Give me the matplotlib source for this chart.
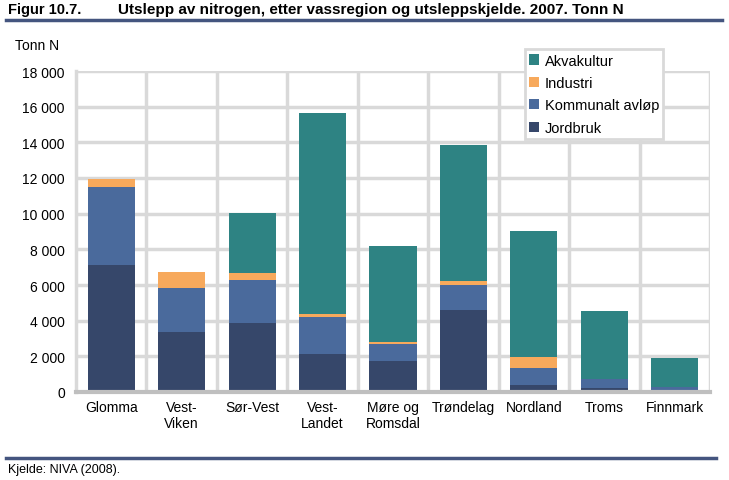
import matplotlib.pyplot as plt
import numpy as np

plt.rcParams['font.family'] = ['Liberation Sans', 'DejaVu Sans']

regioner = ['Glomma', 'Vest-\nViken', 'Sør-Vest', 'Vest-\nLandet', 'Møre og\nRomsdal',
            'Trøndelag', 'Nordland', 'Troms', 'Finnmark']
jordbruk = [7100, 3350, 3850, 2150, 1750, 4600, 400, 220, 80]
kommunalt = [4400, 2500, 2450, 2050, 950, 1400, 950, 500, 200]
industri = [450, 900, 350, 150, 100, 200, 600, 20, 10]
akvakultur = [0, 0, 3400, 11300, 5400, 7650, 7100, 3800, 1620]

c_jord = '#36476A'
c_komm = '#4A6A9C'
c_ind = '#F7A95C'
c_akva = '#2E8383'

fig = plt.figure(figsize=(7.29, 4.81), dpi=100)
ax = fig.add_axes([76 / 729, 1 - 393 / 481, (710 - 76) / 729, (393 - 72) / 481])

x = np.arange(len(regioner))
w = 0.67
b1 = np.array(jordbruk)
b2 = b1 + np.array(kommunalt)
b3 = b2 + np.array(industri)
ax.bar(x, jordbruk, w, color=c_jord, label='Jordbruk', zorder=3)
ax.bar(x, kommunalt, w, bottom=b1, color=c_komm, label='Kommunalt avløp', zorder=3)
ax.bar(x, industri, w, bottom=b2, color=c_ind, label='Industri', zorder=3)
ax.bar(x, akvakultur, w, bottom=b3, color=c_akva, label='Akvakultur', zorder=3)

ax.set_xlim(-0.5, len(regioner) - 0.5)
ax.set_ylim(0, 18000)
ax.set_yticks(np.arange(0, 18001, 2000))
ax.set_yticklabels([f'{v:,}'.replace(',', ' ') for v in range(0, 18001, 2000)], fontsize=10)
ax.set_xticks(x)
ax.set_xticklabels(regioner, fontsize=10, linespacing=1.15)
ax.set_xticks(np.arange(0.5, len(regioner), 1), minor=True)
ax.tick_params(axis='both', which='both', length=0)
ax.tick_params(axis='x', pad=6)
ax.tick_params(axis='y', pad=8)

ax.grid(axis='y', color='#D9D9D9', linewidth=2.5, zorder=0)
ax.grid(axis='x', which='minor', color='#D9D9D9', linewidth=2.5, zorder=0)
ax.grid(axis='x', which='major', visible=False)
for s in ['top', 'right']:
    ax.spines[s].set_visible(False)
ax.spines['left'].set_color('#D9D9D9')
ax.spines['left'].set_linewidth(2.5)
ax.spines['bottom'].set_color('#BFBFBF')
ax.spines['bottom'].set_linewidth(3)
ax.spines['bottom'].set_zorder(4)

h, l = ax.get_legend_handles_labels()
leg = ax.legend(h[::-1], l[::-1], loc='upper left', bbox_to_anchor=(0.708, 1.068),
                fontsize=10.5, frameon=True, fancybox=False, edgecolor='#D9D9D9',
                handlelength=0.7, handleheight=0.7, handletextpad=0.35,
                labelspacing=0.58, borderpad=0.3, borderaxespad=0)
leg.get_frame().set_linewidth(2)
leg.get_frame().set_alpha(1)
leg.set_zorder(5)

fig.text(15 / 729, 1 - 46 / 481, 'Tonn N', fontsize=10, va='center')

fig.text(8 / 729, 1 - 10 / 481, 'Figur 10.7.', fontsize=10.5, fontweight='bold', va='center')
fig.text(118 / 729, 1 - 10 / 481,
         'Utslepp av nitrogen, etter vassregion og utsleppskjelde. 2007. Tonn N',
         fontsize=11, fontweight='bold', va='center')
fig.add_artist(plt.Line2D([6 / 729, 722 / 729], [1 - 21 / 481, 1 - 21 / 481],
                          color='#44557F', linewidth=2.5))
fig.add_artist(plt.Line2D([6 / 729, 716 / 729], [1 - 459 / 481, 1 - 459 / 481],
                          color='#44557F', linewidth=2.5))
fig.text(8 / 729, 1 - 470 / 481, 'Kjelde: NIVA (2008).', fontsize=9, va='center')

plt.savefig('out.png', dpi=100)
